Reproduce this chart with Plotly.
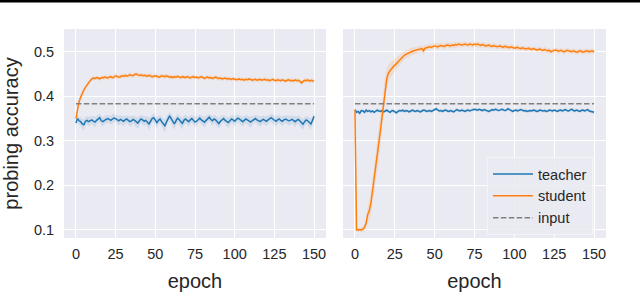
import numpy as np
import plotly.graph_objects as go
from plotly.subplots import make_subplots

EPOCHS = list(range(151))
X_TICKS = [0, 25, 50, 75, 100, 125, 150]
Y_TICKS = [0.1, 0.2, 0.3, 0.4, 0.5]
Y_TICK_LABELS = ["0.1", "0.2", "0.3", "0.4", "0.5"]
SERIES_NAMES = ["teacher", "student", "input"]

INPUT_LEFT = 0.383
INPUT_RIGHT = 0.383

LEFT_TEACHER = [0.340,0.350,0.345,0.343,0.338,0.336,0.344,0.346,0.343,0.345,
0.347,0.344,0.342,0.346,0.350,0.352,0.345,0.343,0.346,0.348,
0.350,0.348,0.346,0.349,0.351,0.350,0.347,0.345,0.348,0.346,
0.344,0.347,0.349,0.346,0.343,0.345,0.348,0.346,0.342,0.340,
0.345,0.349,0.347,0.344,0.346,0.343,0.338,0.344,0.350,0.352,
0.345,0.341,0.346,0.349,0.343,0.337,0.334,0.342,0.351,0.356,
0.350,0.343,0.338,0.345,0.351,0.348,0.342,0.339,0.346,0.349,
0.346,0.343,0.347,0.350,0.346,0.342,0.344,0.348,0.351,0.347,
0.344,0.342,0.346,0.350,0.353,0.348,0.345,0.349,0.347,0.343,
0.339,0.344,0.348,0.350,0.346,0.343,0.341,0.345,0.349,0.347,
0.344,0.348,0.351,0.349,0.345,0.343,0.346,0.349,0.347,0.344,
0.342,0.345,0.348,0.350,0.347,0.345,0.343,0.346,0.348,0.346,
0.344,0.347,0.350,0.352,0.349,0.346,0.344,0.347,0.349,0.346,
0.344,0.347,0.349,0.347,0.345,0.346,0.348,0.346,0.343,0.346,
0.348,0.345,0.340,0.337,0.343,0.347,0.345,0.341,0.338,0.346,
0.355]

LEFT_TEACHER_SD = [0.004,0.008,0.009,0.010,0.011,0.012,0.010,0.009,0.011,0.010,
0.009,0.011,0.012,0.010,0.008,0.009,0.011,0.010,0.009,0.010,
0.008,0.009,0.010,0.011,0.009,0.008,0.010,0.011,0.009,0.010,
0.011,0.009,0.008,0.010,0.012,0.011,0.009,0.010,0.012,0.013,
0.011,0.009,0.010,0.011,0.010,0.012,0.014,0.011,0.009,0.010,
0.011,0.012,0.010,0.009,0.011,0.013,0.014,0.012,0.010,0.009,
0.010,0.012,0.013,0.011,0.009,0.010,0.012,0.013,0.011,0.010,
0.009,0.011,0.010,0.009,0.010,0.012,0.011,0.009,0.008,0.010,
0.011,0.012,0.010,0.009,0.008,0.010,0.011,0.009,0.010,0.011,
0.013,0.011,0.009,0.008,0.010,0.011,0.012,0.010,0.009,0.010,
0.011,0.009,0.008,0.009,0.010,0.011,0.010,0.009,0.010,0.011,
0.012,0.010,0.009,0.008,0.010,0.011,0.012,0.010,0.009,0.010,
0.011,0.010,0.008,0.009,0.010,0.011,0.012,0.010,0.009,0.010,
0.011,0.010,0.009,0.010,0.011,0.010,0.009,0.010,0.012,0.010,
0.009,0.011,0.013,0.012,0.010,0.009,0.010,0.012,0.013,0.010,
0.008]

LEFT_STUDENT = [0.350,0.372,0.388,0.398,0.407,0.414,0.420,0.426,0.431,0.435,
0.439,0.441,0.440,0.442,0.441,0.439,0.442,0.441,0.443,0.442,
0.441,0.443,0.444,0.442,0.443,0.446,0.445,0.443,0.444,0.446,
0.445,0.447,0.445,0.446,0.448,0.447,0.446,0.449,0.450,0.448,
0.447,0.448,0.446,0.447,0.446,0.445,0.447,0.446,0.444,0.445,
0.446,0.445,0.443,0.444,0.446,0.445,0.444,0.446,0.445,0.443,
0.444,0.442,0.444,0.443,0.445,0.443,0.442,0.444,0.443,0.442,
0.444,0.443,0.441,0.443,0.444,0.442,0.443,0.441,0.442,0.444,
0.442,0.440,0.442,0.443,0.441,0.442,0.440,0.441,0.443,0.441,
0.440,0.441,0.439,0.440,0.441,0.439,0.440,0.439,0.438,0.440,
0.439,0.437,0.438,0.439,0.437,0.438,0.436,0.438,0.437,0.439,
0.438,0.436,0.437,0.438,0.436,0.437,0.438,0.436,0.437,0.438,
0.436,0.437,0.435,0.437,0.438,0.436,0.435,0.437,0.436,0.435,
0.437,0.436,0.434,0.436,0.437,0.435,0.436,0.434,0.437,0.435,
0.436,0.434,0.430,0.433,0.436,0.435,0.437,0.434,0.436,0.435,
0.434]

LEFT_STUDENT_SD = [0.003,0.006,0.007,0.007,0.006,0.006,0.005,0.005,0.005,0.004,
0.004,0.005,0.004,0.005,0.004,0.005,0.004,0.005,0.004,0.005,
0.004,0.005,0.005,0.004,0.005,0.006,0.005,0.004,0.005,0.005,
0.004,0.005,0.004,0.005,0.006,0.005,0.004,0.005,0.004,0.005,
0.004,0.005,0.004,0.005,0.005,0.004,0.005,0.006,0.005,0.004,
0.005,0.004,0.005,0.005,0.004,0.005,0.006,0.005,0.004,0.005,
0.004,0.005,0.004,0.005,0.004,0.005,0.004,0.005,0.004,0.004,
0.005,0.004,0.005,0.004,0.005,0.004,0.005,0.004,0.005,0.004,
0.004,0.005,0.004,0.005,0.004,0.005,0.004,0.005,0.004,0.005,
0.004,0.005,0.004,0.005,0.004,0.005,0.004,0.004,0.005,0.004,
0.005,0.004,0.005,0.004,0.005,0.004,0.005,0.004,0.005,0.004,
0.004,0.005,0.004,0.005,0.004,0.005,0.004,0.005,0.004,0.005,
0.004,0.005,0.004,0.005,0.004,0.005,0.004,0.005,0.004,0.005,
0.004,0.005,0.004,0.005,0.004,0.005,0.004,0.005,0.004,0.005,
0.005,0.004,0.005,0.004,0.005,0.004,0.005,0.004,0.005,0.004,
0.004]

RIGHT_TEACHER = [0.370,0.364,0.366,0.362,0.368,0.367,0.364,0.369,0.366,0.368,
0.365,0.367,0.364,0.366,0.369,0.367,0.366,0.368,0.365,0.367,
0.369,0.366,0.364,0.367,0.368,0.365,0.363,0.366,0.368,0.367,
0.369,0.366,0.368,0.367,0.365,0.367,0.369,0.367,0.366,0.368,
0.367,0.365,0.367,0.369,0.368,0.366,0.367,0.368,0.366,0.368,
0.370,0.372,0.369,0.367,0.368,0.366,0.368,0.369,0.367,0.366,
0.368,0.367,0.365,0.368,0.370,0.368,0.367,0.369,0.368,0.366,
0.368,0.369,0.367,0.369,0.370,0.371,0.370,0.369,0.371,0.370,
0.368,0.370,0.369,0.367,0.366,0.368,0.370,0.369,0.371,0.370,
0.368,0.369,0.371,0.370,0.368,0.369,0.372,0.370,0.367,0.366,
0.368,0.369,0.367,0.368,0.370,0.369,0.367,0.368,0.366,0.367,
0.368,0.367,0.369,0.368,0.366,0.367,0.369,0.368,0.367,0.368,
0.366,0.367,0.369,0.368,0.367,0.369,0.368,0.366,0.368,0.369,
0.367,0.368,0.370,0.368,0.367,0.369,0.371,0.368,0.367,0.369,
0.368,0.366,0.368,0.369,0.367,0.368,0.370,0.367,0.366,0.365,
0.364]

RIGHT_TEACHER_SD = [0.002,0.004,0.004,0.005,0.004,0.003,0.004,0.004,0.003,0.004,
0.004,0.003,0.004,0.004,0.003,0.004,0.003,0.004,0.004,0.003,
0.004,0.003,0.004,0.004,0.003,0.004,0.004,0.003,0.004,0.003,
0.004,0.003,0.004,0.003,0.004,0.004,0.003,0.004,0.003,0.004,
0.003,0.004,0.004,0.003,0.004,0.003,0.004,0.003,0.004,0.004,
0.003,0.004,0.003,0.004,0.004,0.003,0.004,0.003,0.004,0.003,
0.004,0.004,0.003,0.004,0.003,0.004,0.003,0.004,0.004,0.003,
0.004,0.003,0.004,0.003,0.004,0.004,0.003,0.004,0.003,0.004,
0.003,0.004,0.004,0.003,0.004,0.003,0.004,0.003,0.004,0.004,
0.003,0.004,0.003,0.004,0.003,0.004,0.004,0.003,0.004,0.003,
0.004,0.003,0.004,0.004,0.003,0.004,0.003,0.004,0.003,0.004,
0.004,0.003,0.004,0.003,0.004,0.003,0.004,0.004,0.003,0.004,
0.003,0.004,0.003,0.004,0.004,0.003,0.004,0.003,0.004,0.003,
0.004,0.004,0.003,0.004,0.003,0.004,0.003,0.004,0.004,0.003,
0.004,0.003,0.004,0.003,0.004,0.004,0.003,0.004,0.003,0.004,
0.003]

RIGHT_STUDENT = [0.370,0.100,0.100,0.101,0.100,0.102,0.106,0.115,0.135,0.143,
0.160,0.185,0.212,0.240,0.268,0.296,0.324,0.352,0.390,0.420,
0.440,0.452,0.458,0.462,0.466,0.470,0.474,0.478,0.482,0.486,
0.489,0.492,0.494,0.496,0.498,0.500,0.501,0.502,0.503,0.504,
0.505,0.506,0.507,0.502,0.508,0.509,0.510,0.511,0.510,0.512,
0.513,0.512,0.511,0.513,0.514,0.513,0.512,0.514,0.515,0.514,
0.513,0.515,0.514,0.516,0.515,0.517,0.516,0.515,0.516,0.517,
0.516,0.515,0.517,0.516,0.515,0.517,0.516,0.517,0.515,0.514,
0.516,0.515,0.513,0.514,0.515,0.513,0.512,0.514,0.513,0.511,
0.512,0.513,0.511,0.510,0.512,0.511,0.510,0.509,0.511,0.510,
0.508,0.509,0.510,0.508,0.507,0.509,0.508,0.506,0.507,0.508,
0.506,0.505,0.507,0.506,0.504,0.505,0.506,0.504,0.503,0.505,
0.504,0.502,0.503,0.500,0.502,0.503,0.504,0.502,0.501,0.503,
0.502,0.500,0.501,0.503,0.502,0.501,0.500,0.502,0.501,0.499,
0.500,0.502,0.501,0.499,0.500,0.502,0.501,0.500,0.501,0.502,
0.499]

RIGHT_STUDENT_SD = [0.003,0.004,0.004,0.005,0.005,0.006,0.008,0.012,0.018,0.022,
0.026,0.030,0.033,0.035,0.036,0.037,0.036,0.034,0.030,0.026,
0.022,0.019,0.017,0.016,0.015,0.014,0.013,0.012,0.012,0.011,
0.011,0.010,0.010,0.009,0.009,0.009,0.008,0.008,0.008,0.008,
0.007,0.008,0.007,0.009,0.007,0.007,0.006,0.007,0.006,0.007,
0.006,0.006,0.007,0.006,0.005,0.006,0.007,0.006,0.005,0.006,
0.006,0.005,0.006,0.007,0.006,0.005,0.006,0.006,0.005,0.006,
0.005,0.006,0.005,0.006,0.006,0.005,0.006,0.005,0.006,0.005,
0.006,0.005,0.006,0.005,0.005,0.006,0.005,0.006,0.005,0.006,
0.005,0.006,0.005,0.005,0.006,0.005,0.006,0.005,0.005,0.006,
0.005,0.006,0.005,0.005,0.006,0.005,0.005,0.006,0.005,0.005,
0.006,0.005,0.005,0.006,0.005,0.005,0.006,0.005,0.005,0.006,
0.005,0.005,0.006,0.005,0.005,0.006,0.005,0.005,0.006,0.005,
0.005,0.006,0.005,0.005,0.006,0.005,0.005,0.006,0.005,0.005,
0.006,0.005,0.005,0.006,0.005,0.005,0.006,0.005,0.005,0.006,
0.005]

for arr in [LEFT_TEACHER, LEFT_TEACHER_SD, LEFT_STUDENT, LEFT_STUDENT_SD,
            RIGHT_TEACHER, RIGHT_TEACHER_SD, RIGHT_STUDENT, RIGHT_STUDENT_SD]:
    assert len(arr) == len(EPOCHS), len(arr)

BLUE = "#1f77b4"
ORANGE = "#ff7f0e"
GRAY = "#808080"
BG = "#EAEAF2"
TXT = "#262626"
FONT = "Liberation Sans, Arial, Helvetica, sans-serif"

W, H = 640, 293
ML, MR, MT, MB = 64, 34, 29, 55
PW = W - ML - MR
PH = H - MT - MB

fig = make_subplots(rows=1, cols=2, shared_yaxes=True, horizontal_spacing=0.03)

def band(mean, sd, color, col):
    m = np.array(mean); s = np.array(sd)
    x = EPOCHS + EPOCHS[::-1]
    y = list(m + s) + list((m - s)[::-1])
    fig.add_trace(go.Scatter(x=x, y=y, fill="toself", fillcolor=color,
                             line=dict(width=0), mode="lines", hoverinfo="skip",
                             showlegend=False), row=1, col=col)

panels = [
    (1, LEFT_TEACHER, LEFT_TEACHER_SD, LEFT_STUDENT, LEFT_STUDENT_SD, INPUT_LEFT),
    (2, RIGHT_TEACHER, RIGHT_TEACHER_SD, RIGHT_STUDENT, RIGHT_STUDENT_SD, INPUT_RIGHT),
]
for col, t, tsd, s, ssd, inp in panels:
    band(t, tsd, "rgba(31,119,180,0.12)", col)
    band(s, ssd, "rgba(255,127,14,0.14)", col)
    fig.add_trace(go.Scatter(x=EPOCHS, y=t, mode="lines", name=SERIES_NAMES[0],
                             line=dict(color=BLUE, width=1.5),
                             showlegend=(col == 2)), row=1, col=col)
    fig.add_trace(go.Scatter(x=EPOCHS, y=s, mode="lines", name=SERIES_NAMES[1],
                             line=dict(color=ORANGE, width=1.5),
                             showlegend=(col == 2)), row=1, col=col)
    fig.add_trace(go.Scatter(x=[EPOCHS[0], EPOCHS[-1]], y=[inp, inp], mode="lines",
                             name=SERIES_NAMES[2],
                             line=dict(color=GRAY, width=1.5, dash="5.5px,2.4px"),
                             showlegend=(col == 2)), row=1, col=col)

xdom1 = [0, (326 - ML) / PW]
xdom2 = [(343 - ML) / PW, 1]
axis_common = dict(showgrid=True, gridcolor="white", gridwidth=1.3, zeroline=False,
                   showline=False, ticks="outside", automargin=False,
                   tickcolor="rgba(0,0,0,0)",
                   tickfont=dict(family=FONT, size=14.5, color=TXT))
fig.update_xaxes(range=[-7.5, 157.5], tickvals=X_TICKS, ticklen=3,
                 ticktext=[str(v) for v in X_TICKS],
                 title=dict(text="epoch", font=dict(family=FONT, size=20, color=TXT),
                            standoff=12),
                 **axis_common)
fig.update_layout(xaxis=dict(domain=xdom1), xaxis2=dict(domain=xdom2))
fig.update_yaxes(range=[0.082, 0.551], tickvals=Y_TICKS, ticktext=Y_TICK_LABELS,
                 ticklen=6, **axis_common)
fig.update_yaxes(title=dict(text="probing accuracy",
                            font=dict(family=FONT, size=20, color=TXT), standoff=9),
                 row=1, col=1)
fig.update_yaxes(showticklabels=False, row=1, col=2)

fig.update_layout(
    width=W, height=H,
    margin=dict(l=ML, r=MR, t=MT, b=MB),
    paper_bgcolor="white", plot_bgcolor=BG,
    font=dict(family=FONT, color=TXT),
    legend=dict(x=(487 - ML) / PW, y=(H - MB - 157) / PH, xanchor="left", yanchor="top",
                bgcolor="rgba(234,234,242,0.85)", bordercolor="#f4f4f8", borderwidth=1,
                font=dict(family=FONT, size=14.5, color=TXT), tracegroupgap=0,
                itemwidth=40),
    shapes=[dict(type="rect", xref="paper", yref="paper",
                 x0=-ML / PW, x1=1 + MR / PW,
                 y0=1 + (MT - 2.5) / PH, y1=1 + MT / PH,
                 fillcolor="black", line=dict(width=0), layer="above")],
)

fig.write_html("out.html", config={"displayModeBar": False},
               post_script="document.body.style.margin='0';document.body.style.overflow='hidden';")
